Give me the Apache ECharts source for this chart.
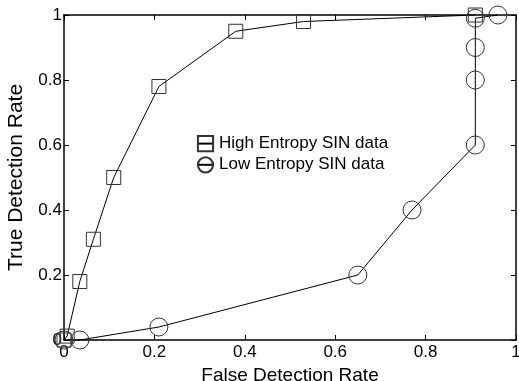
<!DOCTYPE html>
<html><head><meta charset="utf-8">
<script src="https://cdn.jsdelivr.net/npm/echarts@6/dist/echarts.min.js"></script>
<style>html,body{margin:0;padding:0;background:#fff}#c{width:519px;height:381px}</style>
</head><body><div id="c"></div>
<script>
const seriesNames = ['High Entropy SIN data', 'Low Entropy SIN data'];
const highFDR = [0, 0.007, 0.035, 0.065, 0.11, 0.21, 0.38, 0.53, 0.91];
const highTDR = [0, 0.012, 0.18, 0.31, 0.50, 0.78, 0.95, 0.98, 1.0];
const lowFDR = [0, 0.035, 0.21, 0.65, 0.77, 0.91, 0.91, 0.91, 0.91, 0.96];
const lowTDR = [0, 0, 0.04, 0.2, 0.4, 0.6, 0.8, 0.9, 0.99, 1.0];
const xTitle = 'False Detection Rate';
const yTitle = 'True Detection Rate';

const FONT = '"Liberation Sans", Arial, sans-serif';
const pairs = (xs, ys) => xs.map((x, i) => [x, ys[i]]);
const chart = echarts.init(document.getElementById('c'), null, {renderer: 'canvas'});
const axisCommon = {
  type: 'value', min: 0, max: 1, interval: 0.2,
  axisLine: {show: true, onZero: false, lineStyle: {color: '#000', width: 1.5}},
  axisTick: {show: true, inside: true, length: 5, lineStyle: {color: '#000', width: 1}},
  splitLine: {show: false}
};
chart.setOption({
  animation: false,
  backgroundColor: '#fff',
  grid: {left: 64, right: 3, top: 15, bottom: 41, containLabel: false, outerBoundsMode: 'none'},
  legend: {
    orient: 'vertical', left: 196, top: 135, itemGap: 4, itemWidth: 17, itemHeight: 19, padding: 0,
    textStyle: {fontFamily: FONT, fontSize: 17, color: '#000'},
    data: seriesNames
  },
  xAxis: [
    Object.assign({}, axisCommon, {
      position: 'bottom', name: xTitle, nameLocation: 'middle', nameGap: 19,
      nameTextStyle: {fontFamily: FONT, fontSize: 19, color: '#000'},
      axisLabel: {fontFamily: FONT, fontSize: 17, color: '#000', margin: 4}
    }),
    Object.assign({}, axisCommon, {position: 'top', axisLabel: {show: false}})
  ],
  yAxis: [
    Object.assign({}, axisCommon, {
      position: 'left', name: yTitle, nameLocation: 'middle', nameGap: 37,
      nameTextStyle: {fontFamily: FONT, fontSize: 21, color: '#000'},
      axisLabel: {fontFamily: FONT, fontSize: 17, color: '#000', margin: 2}
    }),
    Object.assign({}, axisCommon, {position: 'right', axisLabel: {show: false}})
  ],
  series: [
    {
      name: seriesNames[0], type: 'line', data: pairs(highFDR, highTDR),
      symbol: 'rect', symbolSize: 14, clip: false,
      lineStyle: {color: '#000', width: 1},
      itemStyle: {color: 'rgba(0,0,0,0)', borderColor: '#333', borderWidth: 1}
    },
    {
      name: seriesNames[1], type: 'line', data: pairs(lowFDR, lowTDR),
      symbol: 'circle', symbolSize: 18, clip: false,
      lineStyle: {color: '#000', width: 1},
      itemStyle: {color: 'rgba(0,0,0,0)', borderColor: '#333', borderWidth: 1}
    }
  ]
});
</script></body></html>
